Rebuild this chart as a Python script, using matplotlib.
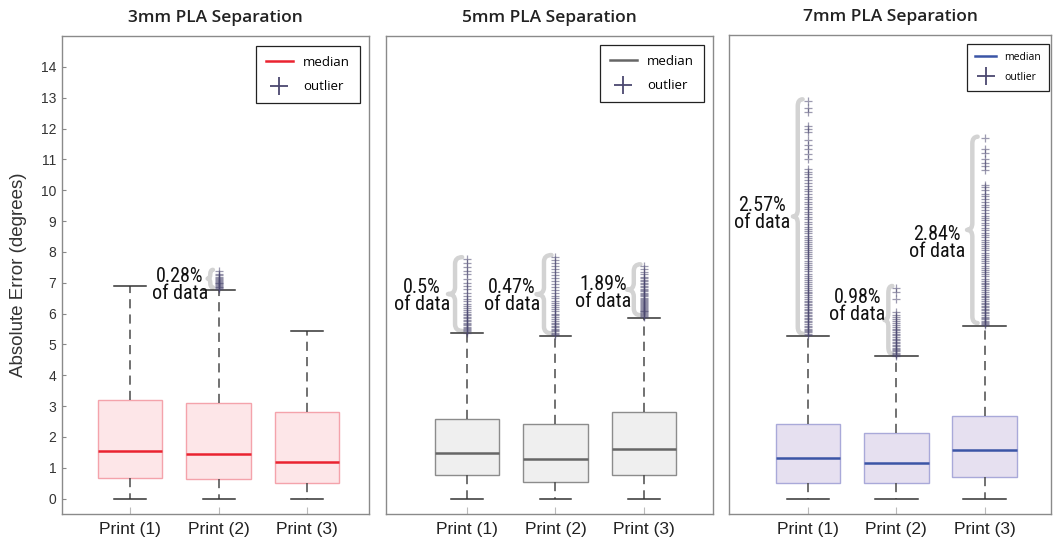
import matplotlib
matplotlib.use("Agg")
import matplotlib.pyplot as plt
from matplotlib.lines import Line2D
from matplotlib.path import Path
from matplotlib.patches import PathPatch
from matplotlib import font_manager

# Box statistics per panel: (q1, median, q3, lower whisker, upper whisker)
titles = ["3mm PLA Separation", "5mm PLA Separation", "7mm PLA Separation"]
prints = ["Print (1)", "Print (2)", "Print (3)"]

q1_vals = [[0.66, 0.64, 0.51], [0.75, 0.55, 0.78], [0.51, 0.50, 0.71]]
med_vals = [[1.55, 1.45, 1.20], [1.49, 1.30, 1.62], [1.30, 1.16, 1.58]]
q3_vals = [[3.20, 3.09, 2.81], [2.59, 2.43, 2.82], [2.42, 2.13, 2.67]]
low_vals = [[0.0, 0.0, 0.0], [0.0, 0.0, 0.0], [0.0, 0.0, 0.0]]
high_vals = [[6.91, 6.77, 5.44], [5.36, 5.28, 5.87], [5.26, 4.60, 5.60]]

# outlier values above the upper whisker
out_3mm = [
    [],
    [6.80, 6.82, 6.85, 6.87, 6.90, 6.92, 6.95, 6.98, 7.00, 7.03, 7.06, 7.10,
     7.13, 7.17, 7.20, 7.25, 7.30, 7.37],
    [],
]
out_5mm = [
    [5.38, 5.42, 5.46, 5.50, 5.54, 5.58, 5.62, 5.66, 5.70, 5.75, 5.80, 5.85,
     5.90, 5.95, 6.00, 6.06, 6.12, 6.18, 6.25, 6.32, 6.40, 6.48, 6.56, 6.68,
     6.80, 6.90, 7.00, 7.13, 7.27, 7.38, 7.52, 7.65, 7.78],
    [5.30, 5.34, 5.38, 5.42, 5.46, 5.50, 5.55, 5.60, 5.65, 5.70, 5.76, 5.82,
     5.88, 5.94, 6.00, 6.07, 6.14, 6.20, 6.28, 6.35, 6.42, 6.50, 6.58, 6.66,
     6.75, 6.85, 6.95, 7.05, 7.15, 7.25, 7.35, 7.45, 7.55, 7.65, 7.75, 7.85],
    [5.89, 5.92, 5.95, 5.98, 6.01, 6.04, 6.07, 6.10, 6.13, 6.16, 6.19, 6.22,
     6.25, 6.28, 6.31, 6.34, 6.37, 6.40, 6.44, 6.48, 6.52, 6.56, 6.60, 6.64,
     6.68, 6.72, 6.76, 6.80, 6.85, 6.90, 6.95, 7.00, 7.05, 7.10, 7.15, 7.20,
     7.27, 7.35, 7.45, 7.55],
]
out_7mm = [
    [5.30, 5.34, 5.38, 5.42, 5.46, 5.50, 5.55, 5.60, 5.65, 5.70, 5.75, 5.80,
     5.85, 5.90, 5.95, 6.00, 6.05, 6.10, 6.15, 6.20, 6.25, 6.30, 6.35, 6.40,
     6.46, 6.52, 6.58, 6.64, 6.70, 6.76, 6.82, 6.88, 6.94, 7.00, 7.07, 7.14,
     7.21, 7.28, 7.35, 7.42, 7.49, 7.56, 7.63, 7.70, 7.77, 7.84, 7.91, 7.98,
     8.05, 8.12, 8.18, 8.24, 8.30, 8.36, 8.43, 8.50, 8.58, 8.65, 8.72, 8.80,
     8.88, 8.96, 9.04, 9.12, 9.20, 9.28, 9.36, 9.44, 9.52, 9.60, 9.68, 9.76,
     9.85, 9.94, 10.02, 10.12, 10.20, 10.30, 10.40, 10.50, 10.58, 10.67,
     10.99, 11.15, 11.32, 11.45, 11.59, 11.86, 11.96, 12.07, 12.50, 12.63,
     12.87],
    [4.62, 4.64, 4.68, 4.72, 4.76, 4.80, 4.84, 4.88, 4.93, 4.98, 5.03, 5.08,
     5.13, 5.18, 5.23, 5.28, 5.33, 5.38, 5.44, 5.50, 5.56, 5.62, 5.68, 5.74,
     5.80, 5.88, 5.95, 6.04, 6.45, 6.67, 6.83],
    [5.62, 5.64, 5.68, 5.72, 5.76, 5.80, 5.84, 5.89, 5.94, 5.99, 6.04, 6.09,
     6.14, 6.19, 6.24, 6.29, 6.34, 6.39, 6.45, 6.51, 6.57, 6.63, 6.69, 6.75,
     6.81, 6.87, 6.93, 6.99, 7.05, 7.12, 7.19, 7.26, 7.33, 7.40, 7.47, 7.54,
     7.61, 7.68, 7.75, 7.82, 7.89, 7.96, 8.03, 8.10, 8.17, 8.24, 8.31, 8.38,
     8.45, 8.52, 8.60, 8.68, 8.76, 8.84, 8.92, 9.00, 9.08, 9.16, 9.25, 9.34,
     9.42, 9.50, 9.60, 9.70, 9.78, 9.86, 9.97, 10.08, 10.15, 10.62, 10.76,
     10.87, 11.00, 11.19, 11.30, 11.66],
]
outliers = [out_3mm, out_5mm, out_7mm]

# share of data flagged as outliers, per print (None = no label)
pct_labels = [[None, "0.28%", None], ["0.5%", "0.47%", "1.89%"],
              ["2.57%", "0.98%", "2.84%"]]

face_colors = ["#fde6e8", "#efefef", "#e6e0f0"]
edge_colors = ["#f4a3ab", "#8c8c8c", "#a9a9d9"]
median_colors = ["#ea2330", "#666666", "#3b55a6"]
flier_color = "#4b4870"

axes_rects = [[0.0589, 0.0481, 0.2915, 0.885],
              [0.3666, 0.0481, 0.3105, 0.885],
              [0.6923, 0.0481, 0.3058, 0.887]]
xlims = [(0.23, 3.70), (0.085, 3.78), (0.107, 3.75)]
cap_widths = [0.36, 0.36, 0.48]
# brace tip offset from box centre and brace width, in x data units
brace_geom = [[None, (-0.124, 0.06), None],
              [(-0.215, 0.16), (-0.215, 0.17), (-0.19, 0.15)],
              [(-0.17, 0.11), (-0.135, 0.09), (-0.2, 0.12)]]
label_pos = [[None, (-0.44, 6.93), None],
             [(-0.51, 6.56), (-0.49, 6.56), (-0.46, 6.67)],
             [(-0.52, 9.20), (-0.44, 6.23), (-0.54, 8.26)]]
legend_font = [9.5, 9.5, 7.5]
legend_anchor = [(1 - 9 / 307, 1 - 10 / 478), (1 - 9 / 327, 1 - 9 / 478),
                 (1 - 2 / 322, 1 - 9 / 480)]

# pick the narrowest installed family for the percentage notes
installed = {f.name for f in font_manager.fontManager.ttflist}
label_font = "Roboto"
for name in ["Roboto Condensed", "Liberation Sans Narrow", "Open Sans Condensed"]:
    if name in installed:
        label_font = name
        break


def draw_brace(ax, x, w, y0, y1):
    """Left-pointing curly brace from y0 to y1, tip at x."""
    ym = (y0 + y1) / 2
    h = min(0.22, (y1 - y0) / 4)
    xm = x + w / 2
    verts = [(x + w, y1), (xm, y1), (xm, y1 - h), (xm, ym + h),
             (xm, ym), (x, ym), (xm, ym), (xm, ym - h),
             (xm, y0 + h), (xm, y0), (x + w, y0)]
    codes = [Path.MOVETO, Path.CURVE3, Path.CURVE3, Path.LINETO,
             Path.CURVE3, Path.CURVE3, Path.CURVE3, Path.CURVE3,
             Path.LINETO, Path.CURVE3, Path.CURVE3]
    ax.add_patch(PathPatch(Path(verts, codes), fill=False, edgecolor="#d3d3d3",
                           lw=3.2, capstyle="round", joinstyle="round", zorder=1))


fig = plt.figure(figsize=(10.53, 5.40), dpi=100)
positions = [1, 2, 3]

for p in range(3):
    ax = fig.add_axes(axes_rects[p])
    stats = []
    for i in range(3):
        stats.append({"med": med_vals[p][i], "q1": q1_vals[p][i],
                      "q3": q3_vals[p][i], "whislo": low_vals[p][i],
                      "whishi": high_vals[p][i], "fliers": outliers[p][i]})
    ax.bxp(stats, positions=positions, widths=0.73,
           capwidths=cap_widths[p], patch_artist=True,
           boxprops=dict(facecolor=face_colors[p], edgecolor=edge_colors[p], lw=1.0),
           medianprops=dict(color=median_colors[p], lw=1.8),
           whiskerprops=dict(color="#4a4a4a", lw=1.1, linestyle=(0, (6, 4))),
           capprops=dict(color="#333333", lw=1.1),
           flierprops=dict(marker="+", markersize=6, markeredgewidth=0.9,
                           markeredgecolor=flier_color, alpha=0.55))

    for i in range(3):
        if brace_geom[p][i] is not None:
            dx, bw = brace_geom[p][i]
            top = max(outliers[p][i])
            draw_brace(ax, positions[i] + dx, bw, high_vals[p][i] + 0.08, top + 0.05)
        if pct_labels[p][i] is not None:
            lx, ly = label_pos[p][i]
            ax.text(positions[i] + lx, ly, pct_labels[p][i] + "\nof data",
                    ha="center", va="center", multialignment="center",
                    fontsize=14.5, family=label_font, weight="normal",
                    linespacing=0.88, color="#111111")

    ax.set_xlim(*xlims[p])
    ax.set_ylim(-0.5, 15)
    ax.set_xticks(positions)
    ax.set_xticklabels(prints, fontsize=12.5, family="Liberation Sans", color="#222222")
    ax.tick_params(axis="x", direction="in", length=5, color="#bbbbbb", pad=6)
    if p == 0:
        ax.set_yticks(range(0, 15))
        ax.set_yticklabels([str(v) for v in range(0, 15)], fontsize=10,
                           family="Liberation Sans", color="#333333")
        ax.tick_params(axis="y", direction="in", length=3, color="#888888", pad=4)
        ax.set_ylabel("Absolute Error (degrees)", fontsize=13.5,
                      family="Liberation Sans", color="#333333", labelpad=10)
    else:
        ax.tick_params(axis="y", left=False, labelleft=False)
    for s in ax.spines.values():
        s.set_color("#8a8a8a")
        s.set_linewidth(1.0)
    ax.set_title(titles[p], fontsize=12.5, family="Open Sans", weight="semibold",
                 color="#222222", pad=10)

    handles = [Line2D([], [], color=median_colors[p], lw=1.8),
               Line2D([], [], marker="+", linestyle="none", markersize=13,
                      markeredgewidth=1.3, color=flier_color)]
    leg = ax.legend(handles, ["median", "outlier"], loc="upper right",
                    bbox_to_anchor=legend_anchor[p], borderaxespad=0,
                    fancybox=False, framealpha=1, edgecolor="#222222",
                    prop={"family": "Open Sans", "size": legend_font[p]},
                    handlelength=2.0, borderpad=0.75, labelspacing=0.85)
    leg.get_frame().set_linewidth(0.9)

fig.savefig("out.png", dpi=100)
